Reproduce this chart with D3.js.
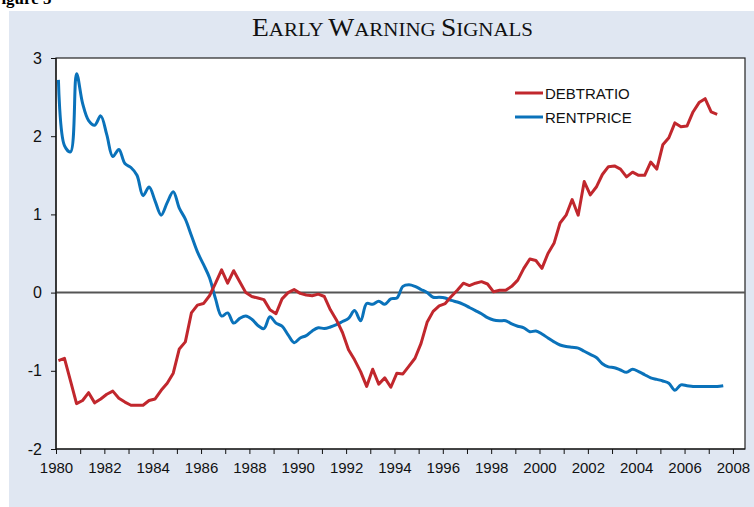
<!DOCTYPE html>
<html>
<head>
  <meta charset="utf-8">
  <title>Early Warning Signals</title>
  <style>
    body { margin: 0; background: #fff; }
    .tick text { font-family: "Liberation Sans", Arial, sans-serif; font-size: 15px; fill: #111; }
    .legend text { font-family: "Liberation Sans", Arial, sans-serif; font-size: 15px; fill: #111; }
  </style>
</head>
<body>
  <svg id="chart" width="754" height="507"></svg>

  <script src="https://d3js.org/d3.v7.min.js"></script>
  <script>
    // quarterly observations, first one at 1980.1
    const startYear = 1980.1;
    const step = 0.25;

    const debtRatio = [
      -0.87, -0.84, -1.13, -1.42, -1.38, -1.28, -1.41, -1.36, -1.30, -1.26,
      -1.35, -1.40, -1.44, -1.44, -1.44, -1.38, -1.36, -1.25, -1.16, -1.03,
      -0.72, -0.63, -0.26, -0.16, -0.14, -0.04, 0.12, 0.29, 0.12, 0.28,
      0.14, 0.00, -0.05, -0.07, -0.09, -0.22, -0.27, -0.08, 0.00, 0.04,
      -0.01, -0.03, -0.04, -0.02, -0.05, -0.22, -0.35, -0.51, -0.73, -0.86,
      -1.01, -1.20, -0.98, -1.17, -1.09, -1.21, -1.03, -1.04, -0.94, -0.84,
      -0.65, -0.38, -0.24, -0.17, -0.14, -0.05, 0.03, 0.12, 0.09, 0.12,
      0.14, 0.11, 0.01, 0.03, 0.03, 0.08, 0.16, 0.31, 0.43, 0.41,
      0.31, 0.50, 0.63, 0.89, 0.99, 1.19, 0.99, 1.42, 1.25, 1.35,
      1.51, 1.61, 1.62, 1.58, 1.48, 1.54, 1.50, 1.50, 1.67, 1.58,
      1.89, 1.98, 2.17, 2.12, 2.13, 2.31, 2.43, 2.48, 2.31, 2.28
    ];

    const rentPrice = [
      2.72, 1.88, 1.80, 2.80, 2.42, 2.20, 2.14, 2.26, 2.02, 1.74,
      1.83, 1.65, 1.60, 1.50, 1.24, 1.35, 1.17, 0.99, 1.15, 1.29,
      1.08, 0.94, 0.73, 0.52, 0.36, 0.19, -0.08, -0.30, -0.26, -0.39,
      -0.33, -0.30, -0.34, -0.42, -0.46, -0.31, -0.39, -0.43, -0.54, -0.64,
      -0.58, -0.55, -0.49, -0.45, -0.46, -0.44, -0.41, -0.37, -0.33, -0.23,
      -0.36, -0.14, -0.15, -0.11, -0.15, -0.08, -0.07, 0.08, 0.10, 0.08,
      0.04, 0.00, -0.06, -0.06, -0.07, -0.10, -0.12, -0.15, -0.19, -0.23,
      -0.27, -0.32, -0.35, -0.36, -0.36, -0.40, -0.43, -0.45, -0.50, -0.49,
      -0.53, -0.58, -0.63, -0.67, -0.69, -0.70, -0.71, -0.75, -0.79, -0.83,
      -0.91, -0.95, -0.96, -0.99, -1.02, -0.98, -1.01, -1.05, -1.09, -1.11,
      -1.13, -1.16, -1.25, -1.18, -1.19, -1.20, -1.20, -1.20, -1.20, -1.20,
      -1.19
    ];

    const seriesNames = ["DEBTRATIO", "RENTPRICE"];
    const seriesColors = ["#c1272d", "#0a72ba"];
    const yTicks = [-2, -1, 0, 1, 2, 3];
    const xTickYears = d3.range(1980, 2009);

    const svg = d3.select("#chart");

    // figure label, mostly cut off at the top
    svg.append("text")
      .attr("x", -9).attr("y", 4)
      .attr("font-family", "Liberation Serif, serif")
      .attr("font-weight", "bold")
      .attr("font-size", 17)
      .text("Figure 5");

    // light blue panel
    svg.append("rect")
      .attr("x", 9).attr("y", 11)
      .attr("width", 754 - 9).attr("height", 507 - 11)
      .attr("fill", "#e0e7f2");

    // title in small caps
    const title = svg.append("text")
      .attr("x", 252).attr("y", 36)
      .attr("font-family", "Liberation Serif, 'Times New Roman', serif")
      .attr("fill", "#111")
      .attr("textLength", 281)
      .attr("lengthAdjust", "spacingAndGlyphs");
    [["E", 25], ["ARLY ", 19], ["W", 25], ["ARNING ", 19], ["S", 25], ["IGNALS", 19]]
      .forEach(([t, s]) => title.append("tspan").attr("font-size", s).text(t));

    const margin = { left: 56, top: 58, right: 745, bottom: 449 };

    const x = d3.scaleLinear()
      .domain([1980, 2008.5])
      .range([margin.left, margin.right]);

    const y = d3.scaleLinear()
      .domain([-2, 3])
      .range([margin.bottom, margin.top]);

    // plot area
    svg.append("rect")
      .attr("x", margin.left).attr("y", margin.top)
      .attr("width", margin.right - margin.left)
      .attr("height", margin.bottom - margin.top)
      .attr("fill", "#fff")
      .attr("stroke", "#222")
      .attr("stroke-width", 1.2);

    // zero line
    svg.append("line")
      .attr("x1", margin.left).attr("x2", margin.right)
      .attr("y1", y(0)).attr("y2", y(0))
      .attr("stroke", "#555")
      .attr("stroke-width", 2);

    // axes (plain hyphen for negatives, as in the original)
    const yAxis = svg.append("g")
      .attr("transform", `translate(${margin.left},0)`)
      .call(d3.axisLeft(y).tickValues(yTicks).tickSize(5).tickPadding(9).tickFormat(d => String(d)));

    const xAxis = svg.append("g")
      .attr("transform", `translate(0,${margin.bottom})`)
      .call(d3.axisBottom(x).tickValues(xTickYears).tickSize(5).tickPadding(8)
        .tickFormat(d => d % 2 === 0 ? d : ""));

    yAxis.selectAll(".tick text").style("font-size", "16px");

    [yAxis, xAxis].forEach(g => {
      g.select(".domain").attr("stroke", "#111").attr("stroke-width", 1.2);
      g.selectAll(".tick line").attr("stroke", "#111");
    });
    yAxis.select(".domain").attr("d", `M0,${margin.top}V${margin.bottom}`);
    xAxis.select(".domain").attr("d", `M${margin.left},0H${margin.right}`);

    // series
    const toPoints = vals => vals.map((v, i) => ({ t: startYear + i * step, v }));

    const debtLine = d3.line()
      .x(d => x(d.t)).y(d => y(d.v));

    const rentLine = d3.line()
      .x(d => x(d.t)).y(d => y(d.v))
      .curve(d3.curveCatmullRom.alpha(0.5));

    svg.append("path")
      .datum(toPoints(rentPrice))
      .attr("d", rentLine)
      .attr("fill", "none")
      .attr("stroke", seriesColors[1])
      .attr("stroke-width", 3)
      .attr("stroke-linejoin", "round");

    svg.append("path")
      .datum(toPoints(debtRatio))
      .attr("d", debtLine)
      .attr("fill", "none")
      .attr("stroke", seriesColors[0])
      .attr("stroke-width", 3)
      .attr("stroke-linejoin", "round");

    // legend
    const legend = svg.append("g").attr("class", "legend");
    seriesNames.forEach((name, i) => {
      const ly = 93 + i * 24;
      legend.append("line")
        .attr("x1", 515).attr("x2", 543)
        .attr("y1", ly).attr("y2", ly)
        .attr("stroke", seriesColors[i])
        .attr("stroke-width", 3);
      legend.append("text")
        .attr("x", 545).attr("y", ly + 5.5)
        .text(name);
    });
  </script>
</body>
</html>
